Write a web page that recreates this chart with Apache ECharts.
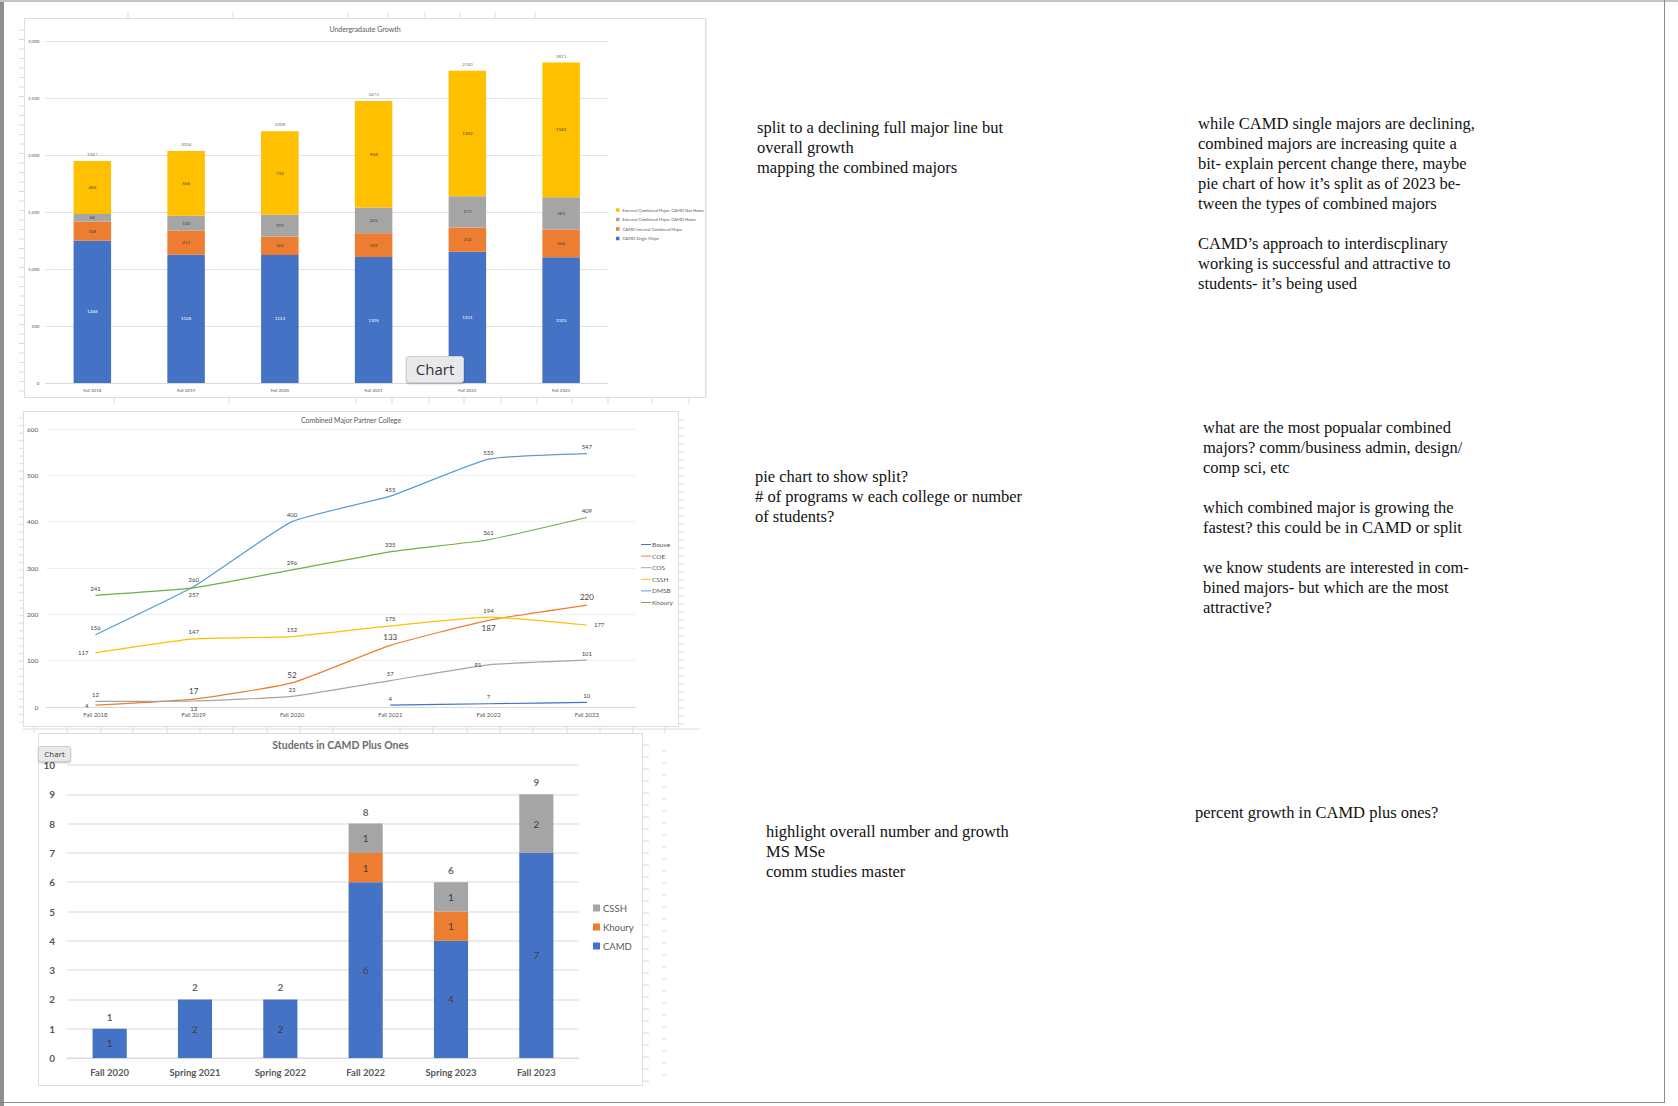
<!DOCTYPE html>
<html>
<head>
<meta charset="utf-8">
<script src="https://cdn.jsdelivr.net/npm/echarts@6/dist/echarts.min.js"></script>
<style>
  html, body { margin: 0; padding: 0; background: #fff; }
  body { width: 1678px; height: 1106px; position: relative; overflow: hidden; }
  .box { position: absolute; border: 1px solid #dedede; box-sizing: border-box; background: #fff; }
  .note { position: absolute; font-family: "Liberation Serif", "DejaVu Serif", serif; font-size: 16.5px; line-height: 20px; color: #111; white-space: nowrap; }
  .tip { position: absolute; background: #e9e9eb; border: 1px solid #d0d0d4; border-radius: 3px; box-shadow: 0 1px 2px rgba(0,0,0,0.25); font-family: "Open Sans", sans-serif; color: #333; text-align: center; z-index: 5; }
  .edge { position: absolute; background: #9a9a9a; }
  #ticks { position: absolute; left: 0; top: 0; }
</style>
</head>
<body>
<svg id="ticks" width="1678" height="1106"></svg>
<div class="edge" style="left:0;top:0;width:4px;height:1106px;background:#8e8e8e"></div>
<div class="edge" style="left:0;top:0;width:1678px;height:2px;background:#c4c4c4"></div>
<div class="edge" style="left:1664px;top:0;width:1px;height:1103px;background:#8a8a8a"></div>
<div class="edge" style="left:0;top:1102px;width:1665px;height:1px;background:#8a8a8a"></div>

<div id="c1" class="box" style="left:24px;top:18px;width:682px;height:380px"></div>
<div id="c2" class="box" style="left:23px;top:411px;width:656px;height:316px"></div>
<div id="c3" class="box" style="left:38px;top:733px;width:605px;height:353px"></div>

<div class="tip" style="left:406px;top:356px;width:56px;height:25px;font-size:15px;line-height:25px">Chart</div>
<div class="tip" style="left:38px;top:746px;width:31px;height:14px;font-size:8px;line-height:14px">Chart</div>

<div class="note" style="left:757px;top:118px">split to a declining full major line but<br>overall growth<br>mapping the combined majors</div>
<div class="note" style="left:1198px;top:114px">while CAMD single majors are declining,<br>combined majors are increasing quite a<br>bit- explain percent change there, maybe<br>pie chart of how it’s split as of 2023 be-<br>tween the types of combined majors<br><br>CAMD’s approach to interdiscplinary<br>working is successful and attractive to<br>students- it’s being used</div>
<div class="note" style="left:755px;top:467px">pie chart to show split?<br># of programs w each college or number<br>of students?</div>
<div class="note" style="left:1203px;top:418px">what are the most popualar combined<br>majors? comm/business admin, design/<br>comp sci, etc<br><br>which combined major is growing the<br>fastest? this could be in CAMD or split<br><br>we know students are interested in com-<br>bined majors- but which are the most<br>attractive?</div>
<div class="note" style="left:766px;top:822px">highlight overall number and growth<br>MS MSe<br>comm studies master</div>
<div class="note" style="left:1195px;top:803px">percent growth in CAMD plus ones?</div>

<script>
// ---------- Chart 1: Undergraduate Growth ----------
const ugYears = ['Fall 2018', 'Fall 2019', 'Fall 2020', 'Fall 2021', 'Fall 2022', 'Fall 2023'];
const ugSingleMajor = [1248, 1126, 1123, 1105, 1151, 1103];
const ugInternalCombined = [168, 212, 162, 209, 214, 244];
const ugExternalHome = [66, 130, 191, 225, 273, 283];
const ugExternalNotHome = [465, 566, 732, 934, 1102, 1181];
const ugYTicks = [0, 500, 1000, 1500, 2000, 2500, 3000];

// ---------- Chart 2: Combined Major Partner College ----------
const cmYears = ['Fall 2018', 'Fall 2019', 'Fall 2020', 'Fall 2021', 'Fall 2022', 'Fall 2023'];
const cmBouve = [null, null, null, 4, 7, 10];
const cmCOE = [4, 17, 52, 133, 187, 220];
const cmCOS = [12, 13, 23, 57, 91, 101];
const cmCSSH = [117, 147, 152, 175, 194, 177];
const cmDMSB = [156, 260, 400, 455, 535, 547];
const cmKhoury = [241, 257, 296, 335, 361, 409];

// ---------- Chart 3: Students in CAMD Plus Ones ----------
const poTerms = ['Fall 2020', 'Spring 2021', 'Spring 2022', 'Fall 2022', 'Spring 2023', 'Fall 2023'];
const poCAMD = [1, 2, 2, 6, 4, 7];
const poKhoury = [null, null, null, 1, 1, null];
const poCSSH = [null, null, null, 1, 1, 2];

const FONT = 'Lato, "Open Sans", sans-serif';
const AXIS_TXT = '#595959';
const LBL_TXT = '#404040';

function sumArrays(arrs) {
  return arrs[0].map((_, i) => arrs.reduce((s, a) => s + (a[i] || 0), 0));
}

// ---- faint spreadsheet cell-grid remnants around the charts ----
(function () {
  const svg = document.getElementById('ticks');
  const segs = [];
  [128, 233, 348, 388, 425, 460, 495, 535].forEach(x => segs.push([x, 12, x, 18]));
  for (let y = 30; y < 398; y += 9.5) segs.push([19, y, 24, y]);
  for (let y = 418; y < 727; y += 7.6) segs.push([19, y, 23, y]);
  [114, 229, 356, 392, 429, 464, 501, 537, 572, 608, 652, 689].forEach(x => segs.push([x, 398, x, 404]));
  segs.push([706, 18, 706, 398]);
  for (let y = 420; y < 727; y += 8) segs.push([679, y, 684, y]);
  [34, 67, 101, 133, 167, 200, 233, 267, 300, 333, 400, 433, 467, 500, 533, 567, 600, 633, 665].forEach(x => segs.push([x, 727, x, 733]));
  segs.push([23, 729, 700, 729]);
  for (let y = 745; y < 1086; y += 12) segs.push([643, y, 649, y]);
  for (let y = 751; y < 1086; y += 12) segs.push([662, y, 667, y]);
  svg.innerHTML = segs.map(s => `<line x1="${s[0]}" y1="${s[1]}" x2="${s[2]}" y2="${s[3]}" stroke="#dcdcdc" stroke-width="1"/>`).join('');
})();

// ===== Chart 1 =====
(function () {
  const ch = echarts.init(document.getElementById('c1'), null, { renderer: 'svg' });
  const totals = sumArrays([ugSingleMajor, ugInternalCombined, ugExternalHome, ugExternalNotHome]);
  const mkBar = (name, data, color, txt) => ({
    name, type: 'bar', stack: 'ug', data, barWidth: '40%',
    itemStyle: { color },
    label: { show: true, position: 'inside', fontSize: 4.5, color: txt, fontFamily: FONT }
  });
  ch.setOption({
    animation: false,
    textStyle: { fontFamily: FONT },
    title: { text: 'Undergradaute Growth', left: 'center', top: 6, padding: 0, textStyle: { fontSize: 7, fontWeight: 'normal', color: AXIS_TXT, fontFamily: FONT } },
    grid: { left: 19, top: 22, width: 564, height: 342 },
    legend: {
      orient: 'vertical', left: 586, top: 184, itemWidth: 3.5, itemHeight: 3.5, itemGap: 5.5,
      icon: 'rect', textStyle: { fontSize: 4.2, color: AXIS_TXT, fontFamily: FONT, padding: [0, 0, 0, -2] },
      data: ['External Combined Major, CAMD Not Home', 'External Combined Major, CAMD Home', 'CAMD Internal Combined Major', 'CAMD Single Major']
    },
    xAxis: {
      type: 'category', data: ugYears,
      axisLine: { lineStyle: { color: '#d9d9d9' } }, axisTick: { show: false },
      axisLabel: { fontSize: 4.5, color: AXIS_TXT, margin: 5 }
    },
    yAxis: {
      type: 'value', min: ugYTicks[0], max: ugYTicks[ugYTicks.length - 1], interval: 500,
      axisLine: { show: false }, axisTick: { show: false },
      splitLine: { lineStyle: { color: '#e3e3e3' } },
      axisLabel: { fontSize: 4.5, color: AXIS_TXT, margin: 6 }
    },
    series: [
      mkBar('CAMD Single Major', ugSingleMajor, '#4472C4', '#ffffff'),
      mkBar('CAMD Internal Combined Major', ugInternalCombined, '#ED7D31', LBL_TXT),
      mkBar('External Combined Major, CAMD Home', ugExternalHome, '#A5A5A5', LBL_TXT),
      mkBar('External Combined Major, CAMD Not Home', ugExternalNotHome, '#FFC000', LBL_TXT),
      {
        name: 'Total', type: 'scatter', data: totals, symbolSize: 0, silent: true,
        label: { show: true, position: 'top', distance: 4, fontSize: 4.5, color: LBL_TXT }
      }
    ]
  });
})();

// ===== Chart 2 =====
(function () {
  const ch = echarts.init(document.getElementById('c2'), null, { renderer: 'svg' });
  const withPos = (vals, pos, size) => vals.map((v, i) => v == null ? null : ({
    value: v, label: { position: pos[i], fontSize: size ? size[i] : 6, distance: pos[i] === 'left' || pos[i] === 'right' ? 7 : 4 }
  }));
  const mkLine = (name, data, color) => ({
    name, type: 'line', data, smooth: 0.15, showSymbol: true, symbol: 'circle', symbolSize: 0.1,
    connectNulls: false,
    lineStyle: { color, width: 1.2 }, itemStyle: { color },
    label: { show: true, fontSize: 6, color: LBL_TXT }
  });
  ch.setOption({
    animation: false,
    textStyle: { fontFamily: FONT },
    title: { text: 'Combined Major Partner College', left: 'center', top: 4, padding: 0, textStyle: { fontSize: 7, fontWeight: 'normal', color: AXIS_TXT, fontFamily: FONT } },
    grid: { left: 21, top: 17, width: 591, height: 278 },
    legend: {
      orient: 'vertical', left: 612, top: 124, itemWidth: 10, itemHeight: 5, itemGap: 4.6,
      icon: 'path://M0,2 L10,2 L10,3 L0,3 Z',
      textStyle: { fontSize: 6.5, color: AXIS_TXT, fontFamily: FONT, padding: [0, 0, 0, -4] },
      data: ['Bouve', 'COE', 'COS', 'CSSH', 'DMSB', 'Khoury']
    },
    xAxis: {
      type: 'category', data: cmYears, boundaryGap: true,
      axisLine: { lineStyle: { color: '#d9d9d9' } }, axisTick: { show: false },
      axisLabel: { fontSize: 6, color: AXIS_TXT, margin: 4 }
    },
    yAxis: {
      type: 'value', min: 0, max: 600, interval: 100,
      axisLine: { show: false }, axisTick: { show: false },
      splitLine: { lineStyle: { color: '#efefef' } },
      axisLabel: { fontSize: 6.5, color: AXIS_TXT, margin: 8 }
    },
    series: [
      mkLine('Bouve', withPos(cmBouve, ['top', 'top', 'top', 'top', 'top', 'top']), '#4472C4'),
      mkLine('COE', withPos(cmCOE, ['left', 'top', 'top', 'top', 'bottom', 'top'], [6, 8, 8, 8, 8, 8]), '#ED7D31'),
      mkLine('COS', withPos(cmCOS, ['top', 'bottom', 'top', 'top', 'left', 'top']), '#A5A5A5'),
      mkLine('CSSH', withPos(cmCSSH, ['left', 'top', 'top', 'top', 'top', 'right']), '#FFC000'),
      mkLine('DMSB', withPos(cmDMSB, ['top', 'top', 'top', 'top', 'top', 'top']), '#5B9BD5'),
      mkLine('Khoury', withPos(cmKhoury, ['top', 'bottom', 'top', 'top', 'top', 'top']), '#70AD47')
    ]
  });
})();

// ===== Chart 3 =====
(function () {
  const ch = echarts.init(document.getElementById('c3'), null, { renderer: 'svg' });
  const totals = sumArrays([poCAMD, poKhoury, poCSSH]);
  const mkBar = (name, data, color) => ({
    name, type: 'bar', stack: 'po', data, barWidth: '40%',
    itemStyle: { color },
    label: { show: true, position: 'inside', fontSize: 10, color: LBL_TXT, fontFamily: FONT }
  });
  ch.setOption({
    animation: false,
    textStyle: { fontFamily: FONT },
    title: { text: 'Students in CAMD Plus Ones', left: 'center', top: 5, padding: 0, textStyle: { fontSize: 10.5, fontWeight: 'bold', color: '#6b6b6b', fontFamily: FONT } },
    grid: { left: 28, top: 31, width: 512, height: 293 },
    legend: {
      orient: 'vertical', left: 549, top: 164, itemWidth: 7, itemHeight: 7, itemGap: 9,
      icon: 'rect', textStyle: { fontSize: 9.5, color: AXIS_TXT, fontFamily: FONT, padding: [0, 0, 0, -2] },
      data: ['CSSH', 'Khoury', 'CAMD']
    },
    xAxis: {
      type: 'category', data: poTerms,
      axisLine: { lineStyle: { color: '#d9d9d9' } }, axisTick: { show: false },
      axisLabel: { fontSize: 9.5, color: AXIS_TXT, margin: 9, fontWeight: 'bold' }
    },
    yAxis: {
      type: 'value', min: 0, max: 10, interval: 1,
      axisLine: { show: false }, axisTick: { show: false },
      splitLine: { lineStyle: { color: '#e6e6e6', width: 1.5 } },
      axisLabel: { fontSize: 10, color: AXIS_TXT, margin: 12, fontWeight: 'bold' }
    },
    series: [
      mkBar('CAMD', poCAMD, '#4472C4'),
      mkBar('Khoury', poKhoury, '#ED7D31'),
      mkBar('CSSH', poCSSH, '#A5A5A5'),
      {
        name: 'Total', type: 'scatter', data: totals, symbolSize: 0, silent: true,
        label: { show: true, position: 'top', distance: 7, fontSize: 10, color: LBL_TXT, fontWeight: 'bold' }
      }
    ]
  });
})();
</script>
</body>
</html>
